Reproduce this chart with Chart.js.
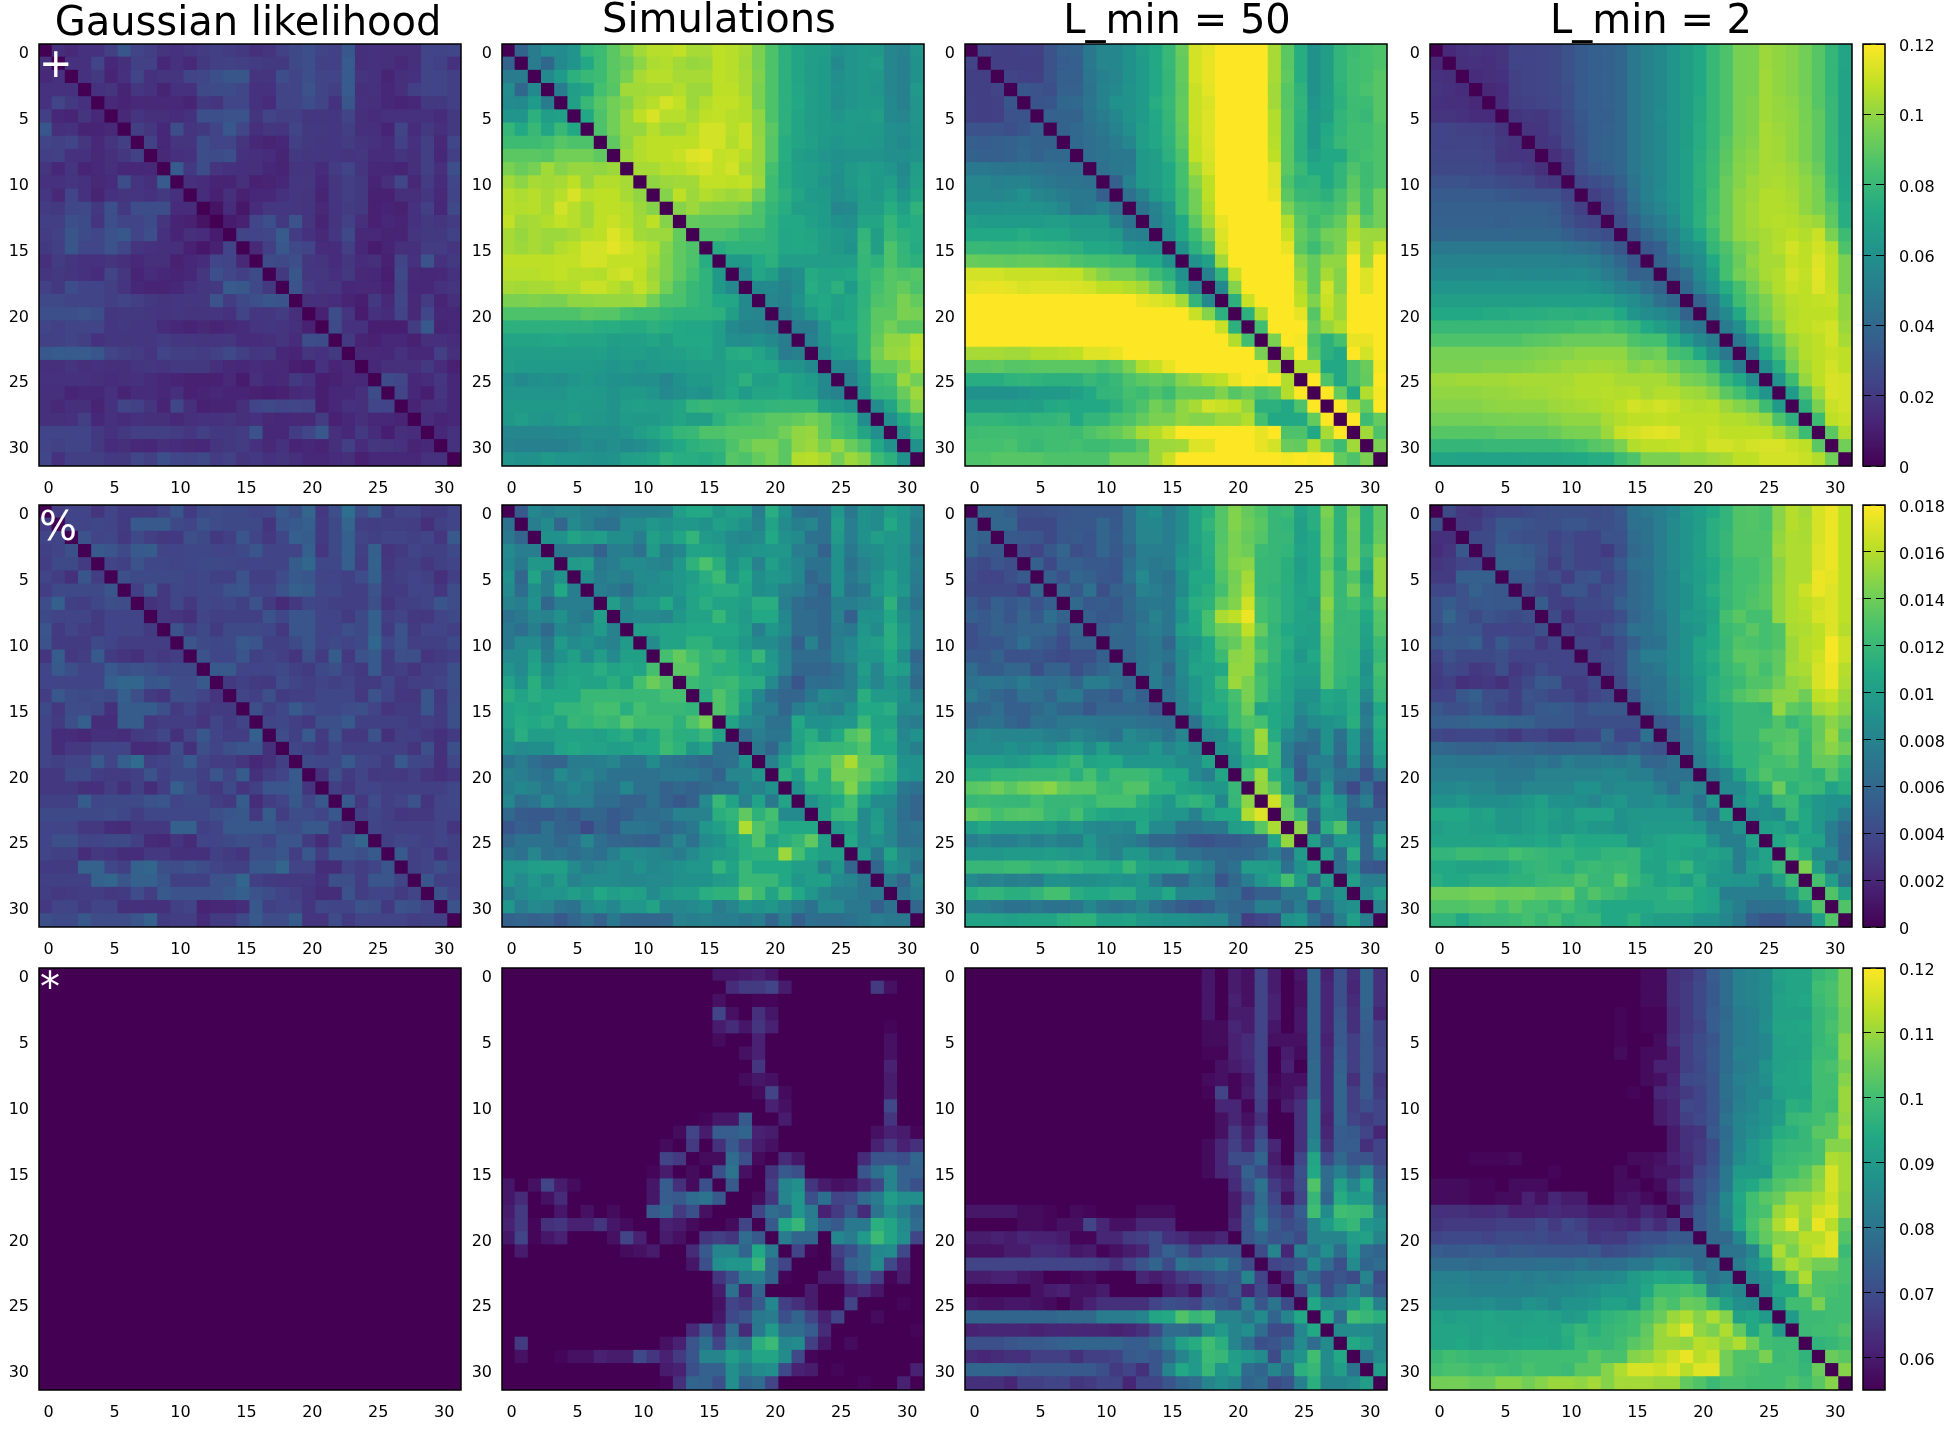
<!DOCTYPE html>
<html>
<head>
<meta charset="utf-8">
<title>Covariance panels</title>
<script src="https://cdn.jsdelivr.net/npm/chart.js@4"></script>
<style>
  body { margin: 0; background: #fff; width: 1950px; height: 1436px; position: relative; overflow: hidden; font-family: "DejaVu Sans", sans-serif; }
  canvas { position: absolute; }
  .title { position: absolute; font-size: 40px; line-height: 40px; white-space: nowrap; color: #000; transform: translateX(-50%); }
  .mark { position: absolute; font-size: 40px; line-height: 40px; color: #fff; z-index: 5; }
</style>
</head>
<body>
<script>
const titles = ['Gaussian likelihood', 'Simulations', 'L_min = 50', 'L_min = 2'];
const marks = ['+', '%', '*'];
const axisTicks = [0, 5, 10, 15, 20, 25, 30];
const plusTicks = [0, 0.02, 0.04, 0.06, 0.08, 0.1, 0.12];
const pctTicks = [0, 0.002, 0.004, 0.006, 0.008, 0.01, 0.012, 0.014, 0.016, 0.018];
const starTicks = [0.06, 0.07, 0.08, 0.09, 0.1, 0.11, 0.12];

// upper triangles, row by row, diagonal left out. '+' panels are in units of 0.001
const gaussPlus = [
[16,14,17,17,22,32,24,22,18,17,19,21,22,21,20,16,18,23,26,29,24,23,33,16,17,16,16,16,24,24,25],
[17,17,24,13,16,23,23,13,17,14,20,22,23,22,21,20,20,26,29,23,23,34,16,17,16,14,16,24,23,17],
[17,20,12,17,24,17,18,18,24,25,29,32,32,18,18,28,24,29,24,24,34,18,17,12,16,17,24,24,22],
[17,18,12,19,17,12,17,17,26,27,27,25,17,17,24,24,30,24,22,34,16,17,13,16,22,24,24,22],
[14,12,14,14,14,14,12,20,18,25,25,17,15,24,24,28,24,17,32,17,16,13,12,13,20,20,22],
[14,18,16,16,15,17,29,29,30,30,18,24,22,22,19,19,19,24,16,15,17,17,17,17,15,20],
[22,19,13,28,18,20,24,33,25,16,19,18,24,20,20,19,22,16,16,12,24,15,20,16,20],
[23,13,18,18,28,24,24,18,14,12,13,22,20,19,19,21,18,17,15,23,17,22,14,25],
[14,16,17,28,27,29,17,16,15,12,20,19,19,19,18,19,15,15,18,16,22,13,22],
[34,20,28,18,17,16,16,13,12,18,18,15,21,24,18,13,13,12,16,22,16,29],
[16,15,12,12,16,11,12,13,19,19,13,19,22,20,12,16,25,14,21,15,25],
[15,11,16,11,13,13,17,19,18,12,19,22,20,11,11,16,16,19,14,24],
[6,15,8,15,19,19,19,18,14,18,21,20,11,12,11,17,22,13,26],
[9,11,25,29,20,30,18,12,18,23,16,11,13,12,17,20,18,21],
[24,24,25,34,21,17,14,19,26,14,14,12,12,18,20,20,23],
[14,22,33,26,24,15,15,22,13,9,12,16,16,21,21,18],
[27,26,29,19,18,15,19,15,16,11,24,17,30,17,20],
[20,32,19,19,16,20,14,13,10,26,14,13,14,17],
[31,21,18,18,13,14,14,11,24,13,13,17,18],
[16,16,15,12,10,20,14,25,14,21,12,16],
[11,28,18,9,17,15,24,14,25,13,13],
[27,17,17,10,10,10,21,33,12,13],
[20,12,11,13,13,11,16,16,15],
[14,14,13,17,13,13,22,16],
[13,16,16,16,20,15,11],
[27,25,13,15,19,13],
[24,13,10,18,13],
[12,16,17,13],
[15,12,13],
[13,17],
[17]
];
const simPlus = [
[38,50,58,57,62,79,82,89,96,103,107,107,109,104,104,108,107,104,96,86,76,70,67,66,60,62,64,63,55,53,62],
[50,40,56,62,72,82,89,92,99,105,106,103,101,102,108,107,103,96,86,76,70,66,65,56,62,64,66,55,52,60],
[56,65,76,80,82,89,95,104,107,107,104,104,104,108,107,104,97,86,76,70,66,65,59,62,64,63,55,52,60],
[50,66,70,84,88,103,103,104,104,106,102,102,108,108,104,96,86,76,71,67,65,60,62,64,62,55,52,64],
[68,80,88,94,98,104,107,112,109,102,106,109,109,106,96,86,76,72,66,65,59,62,64,64,56,52,62],
[72,86,94,101,108,113,107,107,104,108,109,107,106,100,86,76,70,66,65,62,65,65,67,56,54,62],
[86,94,101,101,107,103,103,107,112,112,107,110,100,89,76,70,66,65,64,65,64,64,59,58,61],
[90,100,106,108,108,108,108,112,112,106,110,101,88,74,70,68,64,62,64,64,63,59,56,60],
[102,106,108,108,110,114,115,109,110,107,101,88,74,67,65,62,60,61,61,61,59,59,61],
[104,104,107,107,110,112,109,112,104,101,84,73,68,66,64,60,64,66,65,62,56,66],
[100,102,103,103,109,109,108,109,102,82,73,68,66,62,59,64,68,64,66,58,68],
[98,108,102,106,104,102,104,94,82,76,70,65,64,59,62,66,64,70,62,70],
[98,102,98,97,97,94,86,79,74,67,66,65,55,56,66,66,74,68,77],
[91,90,90,90,86,85,77,72,72,68,65,60,59,70,70,79,72,74],
[86,86,84,80,80,77,71,72,70,66,64,62,78,67,80,76,74],
[74,77,77,77,77,71,72,71,67,64,60,80,67,86,78,73],
[64,64,72,76,66,66,66,66,67,66,79,76,86,79,76],
[56,71,67,56,59,73,70,70,72,79,82,88,86,88],
[56,56,53,58,74,70,76,65,77,84,88,91,86],
[54,53,60,70,72,68,70,77,86,88,96,91],
[50,56,64,71,67,70,78,89,89,96,95],
[50,50,62,72,72,79,89,94,89,89],
[52,61,68,68,79,91,100,100,106],
[56,65,66,79,94,101,102,107],
[56,56,66,91,91,96,104],
[53,64,82,84,101,94],
[60,79,80,92,102],
[58,70,86,98],
[59,72,82],
[60,76],
[60]
];
const lmin50Plus = [
[24,22,22,23,23,30,36,38,48,54,55,60,66,72,80,92,112,115,125,125,125,125,104,89,74,60,67,78,82,84,86],
[22,22,22,22,30,35,36,48,54,55,60,65,72,80,91,112,116,125,125,125,125,104,89,74,60,67,78,83,84,86],
[24,23,23,31,36,36,47,52,54,60,65,72,79,91,112,116,125,125,125,125,104,90,74,60,67,78,83,84,88],
[32,30,29,37,37,46,53,56,61,65,72,79,90,110,115,125,125,125,125,103,88,77,60,67,77,83,85,88],
[31,32,40,41,47,53,60,61,65,74,80,91,110,113,125,125,125,125,103,88,78,62,68,76,82,82,88],
[37,38,38,46,50,55,61,65,72,79,91,110,114,125,125,125,125,106,89,77,64,67,78,82,80,88],
[38,41,44,48,53,59,66,71,78,90,110,114,125,125,125,125,106,89,76,64,72,78,83,83,86],
[41,43,46,50,55,66,71,77,89,109,114,125,125,125,125,107,89,76,64,73,80,83,83,86],
[43,46,48,48,64,67,76,86,109,113,125,125,125,125,108,89,76,68,72,72,82,84,86],
[44,48,49,64,66,72,84,103,112,125,125,125,125,114,89,80,72,72,78,86,82,86],
[36,53,64,66,72,84,98,108,125,125,125,125,114,86,77,78,72,78,89,82,86],
[44,53,64,70,82,94,108,125,125,125,125,116,89,80,79,76,84,91,84,94],
[46,53,62,82,94,106,125,125,125,125,125,96,86,84,82,86,96,84,94],
[52,60,72,89,103,116,125,125,125,125,106,89,82,86,91,104,89,94],
[58,72,82,96,114,125,125,125,125,110,91,86,94,96,106,102,102],
[60,76,86,112,125,125,125,125,116,89,82,90,96,112,102,110],
[60,68,103,125,125,125,125,125,98,91,100,100,125,103,125],
[52,78,110,125,125,125,125,101,91,104,98,125,114,125],
[56,98,125,125,125,125,106,91,112,98,125,114,125],
[76,110,125,125,125,108,97,110,102,125,125,125],
[76,106,125,125,116,88,108,102,125,125,125],
[83,125,125,125,92,101,106,125,125,125],
[96,125,118,86,76,84,116,116,125],
[102,125,89,76,72,125,112,125],
[106,106,72,72,86,92,118],
[125,86,72,86,91,125],
[125,91,72,106,118],
[125,104,91,125],
[125,82,91],
[103,86],
[96]
];
const lmin2Plus = [
[14,17,18,17,18,24,24,25,26,30,34,36,37,40,48,53,56,62,67,72,80,86,95,96,102,100,98,94,88,79,70],
[16,17,16,18,24,24,25,26,30,34,36,37,40,48,53,56,62,67,72,80,86,95,96,102,100,98,94,88,79,70],
[15,16,17,23,24,25,26,30,34,36,37,40,48,53,56,62,67,72,80,86,95,96,103,100,98,94,88,79,69],
[14,15,23,24,25,26,29,34,36,37,40,48,53,56,62,67,72,80,86,95,96,103,100,98,94,88,79,69],
[15,22,23,24,25,29,34,36,37,40,48,53,56,62,67,73,80,86,95,97,103,101,99,95,88,80,69],
[18,20,19,22,27,33,36,36,40,48,53,57,62,67,73,80,86,95,97,103,101,100,95,90,80,69],
[18,18,22,26,32,36,37,40,48,53,56,62,67,74,80,86,95,97,104,102,100,96,90,80,69],
[18,20,26,31,36,38,40,48,53,56,62,67,74,80,88,96,98,104,103,100,96,90,80,70],
[16,21,30,36,38,40,48,53,56,62,68,75,81,89,97,99,104,103,100,96,90,80,70],
[20,30,34,36,40,48,53,56,62,68,76,82,90,98,100,104,104,102,98,92,80,70],
[25,28,30,36,46,52,56,62,68,76,82,92,98,102,104,105,103,100,95,82,71],
[22,26,33,44,52,57,62,68,75,84,92,100,102,106,106,104,100,96,84,72],
[24,30,42,50,54,60,68,76,84,92,100,103,106,106,105,100,96,88,74],
[28,37,46,50,57,67,76,85,92,100,103,106,107,106,104,102,90,74],
[32,40,46,52,62,72,82,92,100,102,104,106,108,106,110,96,82],
[33,36,50,58,62,79,86,94,98,104,107,112,108,112,106,86],
[38,43,53,58,72,84,92,100,104,104,110,108,114,108,96],
[38,44,56,67,84,94,98,104,106,112,109,115,108,96],
[40,52,62,74,84,94,101,106,110,108,114,109,96],
[38,49,65,82,89,96,103,107,108,109,110,100],
[46,56,72,88,94,102,106,108,108,108,100],
[50,59,79,89,98,107,108,110,112,102],
[48,62,78,89,102,106,108,112,104],
[50,72,84,98,106,108,110,108],
[58,74,94,104,108,112,108],
[62,82,101,108,113,112],
[65,86,103,113,112],
[76,96,110,112],
[82,108,110],
[89,106],
[94]
];

// '%' panels are not symmetric, so upper and lower triangles are both kept, units of 0.0001
const gaussPctUpper = [
[32,36,36,27,36,31,31,31,36,47,31,40,41,40,40,36,38,50,43,58,29,43,65,41,52,31,36,36,31,31,36],
[36,36,38,36,31,50,50,50,40,36,45,41,40,40,40,27,47,50,54,31,40,58,34,32,33,33,32,24,34,36],
[45,36,38,30,40,33,29,30,43,40,30,33,47,36,29,38,54,52,31,40,54,36,34,36,36,34,36,28,50],
[50,47,40,50,52,36,36,38,38,36,36,40,47,36,36,36,54,28,40,54,34,54,27,31,36,34,34,40],
[36,34,45,38,38,36,38,40,40,38,36,36,36,36,52,60,38,38,54,32,56,28,33,34,28,34,36],
[43,40,40,40,40,36,38,34,34,45,33,33,41,50,47,36,36,34,41,54,31,34,36,34,24,33],
[34,47,29,38,36,38,38,45,47,36,36,45,54,52,38,38,34,33,45,31,31,36,36,28,41],
[26,29,38,29,38,36,38,34,45,31,22,29,38,36,34,33,33,43,27,33,34,36,47,41],
[29,27,25,36,34,34,34,34,45,38,47,47,36,36,31,40,54,33,36,29,29,36,40],
[45,34,40,31,40,40,40,38,29,47,47,36,36,43,40,54,31,45,31,36,36,33],
[47,40,38,40,50,47,34,34,40,47,36,40,36,40,60,38,45,33,34,34,40],
[45,38,38,47,34,36,33,27,43,31,52,29,45,50,31,43,43,27,31,33],
[50,50,36,36,36,40,34,31,40,43,33,30,50,31,33,27,34,34,43],
[30,34,31,30,41,36,33,36,34,36,31,31,38,29,33,33,36,43],
[36,34,43,31,33,33,38,38,38,29,45,36,28,28,47,30,41],
[43,33,38,50,41,38,38,41,43,36,27,31,31,47,31,43],
[36,38,33,29,43,43,50,34,34,34,34,31,33,31,43],
[41,34,50,31,45,29,29,45,25,33,34,29,25,31],
[36,34,29,38,33,34,34,34,33,27,43,25,43],
[40,38,38,50,38,36,31,50,38,36,24,38],
[25,43,31,36,29,31,29,33,27,24,28],
[33,28,36,36,33,33,33,33,33,38],
[50,29,41,33,36,45,27,36,38],
[34,38,33,28,29,29,36,36],
[36,34,33,33,33,36,27],
[34,38,36,33,36,34],
[50,33,36,25,33],
[34,36,43,36],
[47,34,34],
[45,36],
[45]
];
const gaussPctLower = [
[32],
[36,36],
[34,36,43],
[32,40,40,31],
[36,32,25,47,32],
[32,40,40,40,40,47],
[41,54,34,32,38,43,41],
[40,36,36,36,31,36,36,36],
[47,31,36,32,31,36,36,36,31],
[45,31,31,31,40,36,32,32,32,32],
[27,52,29,32,50,31,27,25,32,29,32],
[36,50,43,36,36,50,43,45,43,38,40,40],
[36,36,36,36,36,54,59,59,47,49,41,41,50],
[32,49,41,40,41,40,54,43,31,27,43,41,36,27],
[40,29,41,41,40,25,52,52,52,43,31,36,29,31,31],
[36,31,43,54,23,23,52,52,29,32,32,32,27,36,31,36],
[36,23,23,20,25,25,23,31,32,38,25,36,49,36,32,32,54],
[36,23,29,29,36,36,36,22,22,25,41,25,43,36,43,47,47,25],
[36,34,36,36,50,36,54,63,34,36,40,50,36,32,32,27,20,25,34],
[29,29,40,40,32,31,31,34,45,34,40,40,34,47,36,52,25,32,36,50],
[29,29,29,25,25,32,25,34,23,32,54,43,32,29,40,27,34,47,47,50,27],
[34,34,34,52,38,40,40,40,45,47,36,40,40,32,29,52,23,32,36,49,36,49],
[40,40,40,40,40,41,38,32,38,38,38,38,38,43,47,49,29,52,32,41,41,36,49],
[36,36,36,29,29,23,22,29,29,29,54,54,34,36,49,49,49,49,43,41,49,49,34,29],
[36,43,43,36,36,40,40,34,22,20,27,22,36,36,40,43,41,36,47,47,31,22,34,49,58],
[36,34,34,23,29,27,23,23,29,29,25,25,25,34,31,27,43,43,47,32,49,32,47,47,43,50],
[31,31,31,56,56,38,34,56,59,43,41,45,41,36,34,34,49,49,59,36,36,23,23,36,32,36,47],
[34,34,34,34,56,59,47,56,56,47,34,34,34,45,45,59,34,31,29,29,29,25,43,43,32,47,47,36],
[32,29,31,32,32,29,31,41,32,50,45,45,45,45,50,54,45,41,36,33,27,23,23,45,32,36,36,31,36],
[29,36,36,31,36,36,25,25,25,25,34,36,18,20,20,23,49,34,36,36,27,38,36,36,45,43,29,45,43,36],
[43,40,40,49,41,41,41,47,56,31,32,32,22,31,31,40,50,41,41,52,27,27,41,31,36,36,36,36,32,34,34]
];
const simPctUpper = [
[50,83,76,81,81,77,76,72,76,77,77,79,99,108,108,95,101,99,76,112,90,68,63,68,94,72,90,86,99,94,81],
[76,86,58,85,77,68,68,85,86,94,90,94,95,90,101,97,90,79,104,86,77,81,67,99,76,90,86,108,94,77],
[90,90,104,97,99,88,88,76,101,94,106,117,97,94,85,83,86,108,90,86,68,67,97,76,90,99,95,94,76],
[72,72,72,56,76,77,67,97,77,83,103,103,101,88,90,92,94,94,76,74,56,90,72,85,88,95,90,72],
[97,99,72,76,86,85,81,79,95,115,128,113,90,101,79,101,90,83,68,68,90,68,79,86,94,90,77],
[88,74,79,76,86,85,90,94,99,112,122,94,108,88,94,92,83,59,68,90,72,81,90,103,90,74],
[76,72,65,83,88,88,94,103,108,112,112,104,88,90,79,76,65,56,90,68,72,94,103,94,72],
[99,81,94,94,108,90,104,112,104,104,99,112,112,76,63,59,59,77,76,81,85,115,83,68],
[83,85,85,81,95,104,104,119,104,97,108,108,83,63,63,59,79,54,90,90,108,88,77],
[99,99,104,104,108,108,108,108,99,77,94,86,63,63,59,74,72,94,86,112,94,76],
[86,104,104,115,115,104,104,95,86,86,76,54,79,59,76,83,97,99,112,97,76],
[126,137,126,117,122,113,103,119,94,79,63,63,63,77,85,95,94,108,86,58],
[133,133,117,112,113,108,99,97,79,59,59,58,65,76,99,81,103,99,65],
[122,117,119,122,112,112,85,63,47,65,63,68,76,94,81,95,85,61],
[112,130,119,104,83,65,58,58,72,86,81,79,113,97,97,90,77],
[130,120,97,76,76,59,76,86,79,76,90,108,108,112,86,85],
[104,85,81,67,67,108,90,90,94,94,120,104,104,79,74],
[63,76,70,70,104,112,95,108,130,137,108,112,83,90],
[72,59,85,101,117,120,119,122,130,108,108,86,77],
[79,99,117,126,126,140,157,133,133,119,90,90],
[113,99,126,112,142,142,137,126,117,94,90],
[90,112,113,122,146,122,108,99,72,68],
[90,101,108,126,103,86,86,68,58],
[101,120,122,86,97,81,65,58],
[97,104,85,99,83,68,70],
[108,85,90,81,67,67],
[94,72,104,81,77],
[59,90,86,67],
[72,58,81],
[68,76],
[59]
];
const simPctLower = [
[68],
[72,58],
[85,76,76],
[83,72,95,95],
[90,58,104,76,90],
[85,63,88,77,108,77],
[79,76,90,59,76,76,76],
[68,72,81,79,90,77,72,99],
[72,65,77,61,83,79,85,97,79],
[72,85,86,72,97,86,90,83,79,97],
[85,86,99,77,90,101,85,99,85,101,101],
[92,85,104,88,101,104,104,112,104,108,104,126],
[103,90,113,94,104,108,104,104,113,104,126,139,130],
[113,104,112,108,108,108,120,120,120,119,120,120,126,126],
[103,108,104,108,117,117,120,126,126,112,126,120,120,120,117],
[103,110,108,112,104,119,117,122,119,131,124,124,124,115,130,142],
[95,112,99,99,103,103,103,101,108,112,99,108,119,113,112,120,104],
[90,85,88,88,103,108,103,103,99,101,108,108,122,115,95,104,65,65],
[68,74,65,58,58,74,74,77,81,70,70,86,70,67,63,59,65,67,90],
[79,76,70,68,85,76,81,74,68,68,67,67,72,72,72,67,56,81,81,94],
[76,83,79,70,74,83,77,67,67,83,67,67,56,61,56,61,65,65,83,79,90],
[83,65,70,83,72,76,76,63,63,56,56,68,56,49,56,85,120,104,79,103,72,103],
[61,52,50,50,56,50,59,59,50,54,63,63,67,79,79,79,113,117,135,115,126,85,85],
[47,54,52,68,56,54,40,56,50,70,70,68,59,65,72,94,101,113,158,130,120,108,108,108],
[59,68,68,68,59,65,81,65,58,58,56,54,67,81,67,85,90,104,113,130,104,112,119,135,101],
[72,67,81,67,70,63,70,65,77,88,85,83,79,74,85,95,97,99,112,115,115,153,126,108,101,101],
[94,94,99,101,101,86,76,81,86,83,90,83,86,90,94,94,117,104,120,108,108,108,99,99,79,95,59],
[94,85,94,86,97,79,86,86,86,83,83,85,85,90,90,90,97,99,120,120,120,108,94,99,101,85,81,70],
[76,85,90,92,92,99,95,108,99,104,101,86,95,99,99,112,115,115,135,124,104,122,108,94,81,76,76,70,72],
[94,76,85,81,70,68,85,90,83,94,94,104,83,81,85,90,74,81,95,90,95,85,77,68,86,85,72,72,54,68],
[56,59,56,58,49,59,67,56,72,61,59,59,61,79,77,79,76,76,72,77,59,77,54,65,63,63,68,72,76,72,72]
];
const lmin50PctUpper = [
[59,59,54,43,43,45,47,49,49,49,49,65,83,88,74,86,104,112,131,146,137,130,119,122,103,112,144,115,140,113,135],
[59,59,40,40,40,49,49,49,59,50,65,81,83,76,86,104,117,131,146,139,133,119,117,101,112,140,115,142,113,135],
[50,49,47,40,49,50,47,59,52,65,81,81,76,86,104,112,131,144,137,131,119,119,101,108,139,115,140,113,137],
[41,36,49,58,43,47,59,50,59,76,76,76,90,99,112,133,144,140,122,119,117,103,108,140,117,140,119,144],
[54,40,54,54,50,50,47,65,76,72,74,95,101,110,133,146,148,120,119,113,99,108,135,113,142,112,151],
[54,45,59,56,49,47,68,85,72,68,88,108,108,130,142,155,120,119,113,101,108,142,119,130,104,151],
[59,50,67,43,56,58,79,76,70,86,106,113,126,144,158,120,117,112,103,108,142,119,140,112,151],
[61,50,52,49,61,70,72,70,95,112,115,137,146,167,126,120,112,106,99,148,120,126,115,137],
[54,49,50,59,68,79,70,90,108,126,157,162,175,126,120,112,104,103,144,119,120,108,131],
[54,61,59,72,76,70,99,106,126,140,142,162,137,117,108,103,101,140,120,119,103,130],
[59,59,68,72,59,90,94,108,130,137,151,126,119,112,99,101,137,119,119,101,122],
[59,68,72,68,86,99,108,122,148,151,133,119,108,95,108,135,119,117,94,119],
[68,74,58,86,103,103,108,151,151,122,115,108,101,101,133,119,117,90,126],
[74,65,83,94,103,122,153,144,126,115,104,97,97,133,117,113,94,122],
[68,79,94,104,112,126,144,126,112,104,90,90,108,104,112,85,119],
[79,88,108,108,122,140,104,108,101,85,95,104,101,110,72,108],
[68,95,99,122,130,126,108,99,76,86,90,95,113,76,112],
[81,86,108,122,153,110,85,76,68,90,68,94,67,108],
[90,95,120,151,122,76,61,63,90,63,94,63,103],
[90,112,115,122,77,54,76,76,58,86,59,95],
[126,153,112,97,50,68,81,68,65,45,67],
[151,135,95,79,56,94,58,40,63,40],
[167,133,67,79,103,90,61,77,43],
[137,119,61,97,95,54,54,54],
[148,49,112,130,83,56,76],
[99,68,94,94,59,104],
[99,65,112,58,83],
[68,86,50,47],
[99,76,76],
[83,99],
[81]
];
const lmin50PctLower = [
[56],
[59,56],
[58,49,49],
[43,40,47,43],
[41,36,36,43,50],
[40,40,40,40,32,59],
[50,43,54,49,54,45,54],
[54,50,56,47,58,50,65,56],
[43,50,56,54,58,58,58,47,59],
[43,47,47,54,65,54,50,41,56,56],
[50,49,56,45,45,47,43,40,43,43,54],
[63,52,52,59,58,43,56,56,43,52,59,65],
[67,70,70,68,74,68,65,67,59,74,74,67,59],
[74,65,59,54,67,67,58,72,72,56,56,50,65,54],
[59,59,65,54,54,61,68,59,59,49,58,58,59,59,49],
[61,68,68,59,54,67,65,72,72,72,70,70,70,67,65,63],
[81,85,81,81,81,81,77,74,81,77,72,68,85,79,77,68,81],
[86,85,85,90,85,90,85,95,99,86,99,86,86,86,94,81,90,79],
[101,101,101,97,99,108,108,113,119,104,108,108,94,94,94,94,86,85,103],
[113,112,117,117,119,119,119,122,112,126,112,122,122,122,117,108,108,85,76,106],
[133,135,140,133,140,144,148,137,133,133,122,120,130,130,115,115,104,101,95,95,120],
[119,122,120,119,119,126,119,119,120,117,126,126,126,113,104,94,112,117,112,83,119,148],
[137,133,126,130,131,130,120,117,126,112,108,104,106,106,99,92,92,79,99,108,108,158,171],
[99,108,99,99,99,97,99,90,95,85,83,85,83,108,85,85,67,67,72,72,99,103,133,157],
[76,81,77,76,81,77,81,77,77,94,81,79,77,70,59,59,54,47,45,50,50,56,56,104,151],
[94,94,94,97,97,97,99,97,94,97,86,79,94,95,81,86,67,67,61,61,59,59,67,76,59,97],
[119,119,119,122,122,117,117,120,117,112,112,108,120,104,101,101,104,88,79,61,68,99,99,97,68,90,104],
[85,79,81,77,79,76,90,90,88,88,90,92,90,94,76,61,59,74,72,47,61,76,94,104,126,99,58,97],
[112,117,117,113,112,117,126,126,112,108,108,112,112,94,94,108,83,83,81,67,65,45,54,54,72,72,103,77,90],
[77,76,72,68,68,72,68,68,70,83,72,68,72,79,67,59,52,47,52,63,59,59,77,76,61,77,49,65,85,90],
[104,104,103,101,104,104,104,112,115,115,101,101,104,95,92,90,90,88,85,85,63,32,38,43,90,94,68,49,77,101,76]
];
const lmin2PctUpper = [
[40,29,27,34,36,36,40,41,43,43,43,41,43,49,68,72,76,83,94,99,108,117,130,131,128,148,160,155,169,175,162],
[29,31,38,49,49,45,43,43,47,47,43,43,47,67,68,76,85,92,99,112,117,130,131,128,148,160,157,169,175,162],
[40,40,50,45,43,43,36,41,36,36,45,45,63,68,76,86,92,101,112,119,130,130,130,151,158,157,169,175,162],
[40,54,54,52,45,36,43,36,36,31,43,61,65,76,85,92,101,112,119,130,130,130,153,158,158,171,175,162],
[56,56,54,43,32,43,36,36,40,50,65,68,76,85,92,101,108,117,126,126,131,148,158,158,171,175,162],
[49,49,40,43,32,45,47,36,45,61,65,76,83,94,99,108,119,126,126,131,149,158,158,175,173,162],
[43,36,34,47,47,36,43,47,61,65,76,83,90,101,112,120,126,128,133,151,158,166,175,171,162],
[52,34,32,40,40,41,54,61,65,76,83,90,99,108,119,126,130,133,151,158,162,167,171,162],
[40,25,36,36,36,43,58,65,72,83,94,97,104,126,133,126,126,151,158,160,169,171,162],
[36,32,34,43,50,67,68,72,81,90,95,108,122,126,133,126,130,157,158,162,171,160],
[36,36,32,43,54,65,68,81,90,104,108,120,130,128,126,130,153,160,162,178,166],
[36,40,43,63,76,76,83,90,104,112,122,133,133,130,135,153,160,166,178,166],
[36,43,63,68,72,83,90,101,108,120,126,133,126,135,155,157,169,175,160],
[40,59,67,68,79,88,97,112,117,122,130,130,140,149,153,169,175,158],
[49,65,68,77,86,97,112,119,130,135,140,148,149,140,162,166,153],
[61,65,74,86,101,108,112,119,119,117,151,135,131,153,157,149],
[50,54,72,83,101,112,119,119,119,130,119,126,137,148,140],
[56,67,81,103,112,119,119,130,130,133,122,137,153,131],
[65,79,95,108,117,117,122,133,135,119,140,148,140],
[76,90,101,117,117,126,126,130,119,137,137,126],
[72,83,101,119,130,122,122,119,115,131,117],
[85,85,101,115,139,115,122,119,103,113],
[90,101,90,119,122,104,94,90,90],
[86,90,88,119,108,95,90,76],
[99,103,94,108,94,76,63],
[108,115,104,104,76,59],
[126,113,85,85,58],
[144,99,67,77],
[126,99,67],
[130,103],
[130]
];
const lmin2PctLower = [
[43],
[25,25],
[23,27,49],
[27,31,36,38],
[31,31,54,54,54],
[38,38,45,56,50,49],
[45,52,45,49,50,49,49],
[45,58,47,40,47,43,40,43],
[40,49,47,47,36,36,36,36,43],
[49,52,50,54,38,50,41,41,29,38],
[36,45,40,40,40,43,36,36,36,36,36],
[32,40,36,29,32,43,29,34,41,36,36,36],
[31,34,25,27,29,25,32,40,50,49,32,32,40],
[36,36,49,54,41,41,34,45,43,38,38,31,36,41],
[49,43,43,49,43,36,34,43,50,52,49,43,49,49,49],
[54,54,56,59,59,59,56,56,49,49,49,43,43,43,43,43],
[40,36,38,38,38,34,29,36,36,31,29,36,36,56,38,38,68],
[61,59,56,56,54,58,58,58,56,54,54,56,56,49,47,56,49,45],
[72,72,70,70,70,70,68,68,72,68,76,72,72,74,72,76,59,58,67],
[76,76,76,76,76,72,72,72,79,79,79,79,79,83,83,77,77,65,68,68],
[83,83,85,81,81,74,74,81,81,81,81,90,90,81,86,86,86,76,65,81,79],
[90,90,95,88,88,88,90,95,101,90,90,88,81,90,95,85,85,90,83,83,68,94],
[108,108,108,101,104,95,95,99,104,99,95,103,103,103,90,95,95,94,94,94,76,68,104],
[99,103,103,101,101,95,95,99,103,97,95,99,95,95,90,94,97,97,97,97,95,77,77,90],
[104,104,104,104,104,108,103,103,108,103,112,108,108,108,108,95,99,104,108,108,108,90,77,77,103],
[117,117,122,122,120,120,126,122,120,117,117,112,112,117,117,119,108,104,108,104,99,103,99,76,90,103],
[108,108,104,104,104,106,112,117,119,117,112,119,122,119,122,119,104,104,113,119,104,99,95,76,99,104,120],
[112,108,108,112,112,112,115,115,120,122,122,130,119,120,133,120,113,104,108,99,112,94,94,92,92,77,99,122],
[140,140,140,142,142,139,139,140,135,135,139,120,130,124,119,113,112,112,117,117,108,103,77,76,76,76,76,95,120],
[130,130,130,133,133,126,133,126,126,119,126,117,112,108,108,108,108,112,112,112,108,103,86,77,65,67,68,72,95,130],
[117,117,108,117,119,119,122,126,120,126,115,119,120,108,108,115,103,99,99,99,90,90,83,72,54,47,47,59,59,99,131]
];
// '*' panels, units of 0.001, anything under 0.055 sits on the bottom colour
const gaussStar = [
[0,0,0,0,0,0,0,0,0,0,0,0,0,0,0,0,0,0,0,0,0,0,0,0,0,0,0,0,0,0,0],
[0,0,0,0,0,0,0,0,0,0,0,0,0,0,0,0,0,0,0,0,0,0,0,0,0,0,0,0,0,0],
[0,0,0,0,0,0,0,0,0,0,0,0,0,0,0,0,0,0,0,0,0,0,0,0,0,0,0,0,0],
[0,0,0,0,0,0,0,0,0,0,0,0,0,0,0,0,0,0,0,0,0,0,0,0,0,0,0,0],
[0,0,0,0,0,0,0,0,0,0,0,0,0,0,0,0,0,0,0,0,0,0,0,0,0,0,0],
[0,0,0,0,0,0,0,0,0,0,0,0,0,0,0,0,0,0,0,0,0,0,0,0,0,0],
[0,0,0,0,0,0,0,0,0,0,0,0,0,0,0,0,0,0,0,0,0,0,0,0,0],
[0,0,0,0,0,0,0,0,0,0,0,0,0,0,0,0,0,0,0,0,0,0,0,0],
[0,0,0,0,0,0,0,0,0,0,0,0,0,0,0,0,0,0,0,0,0,0,0],
[0,0,0,0,0,0,0,0,0,0,0,0,0,0,0,0,0,0,0,0,0,0],
[0,0,0,0,0,0,0,0,0,0,0,0,0,0,0,0,0,0,0,0,0],
[0,0,0,0,0,0,0,0,0,0,0,0,0,0,0,0,0,0,0,0],
[0,0,0,0,0,0,0,0,0,0,0,0,0,0,0,0,0,0,0],
[0,0,0,0,0,0,0,0,0,0,0,0,0,0,0,0,0,0],
[0,0,0,0,0,0,0,0,0,0,0,0,0,0,0,0,0],
[0,0,0,0,0,0,0,0,0,0,0,0,0,0,0,0],
[0,0,0,0,0,0,0,0,0,0,0,0,0,0,0],
[0,0,0,0,0,0,0,0,0,0,0,0,0,0],
[0,0,0,0,0,0,0,0,0,0,0,0,0],
[0,0,0,0,0,0,0,0,0,0,0,0],
[0,0,0,0,0,0,0,0,0,0,0],
[0,0,0,0,0,0,0,0,0,0],
[0,0,0,0,0,0,0,0,0],
[0,0,0,0,0,0,0,0],
[0,0,0,0,0,0,0],
[0,0,0,0,0,0],
[0,0,0,0,0],
[0,0,0,0],
[0,0,0],
[0,0],
[0]
];
const simStar = [
[0,0,0,0,0,0,0,0,0,0,0,0,0,0,0,59,59,60,61,59,0,0,0,0,0,0,0,0,0,0,0],
[0,0,0,0,0,0,0,0,0,0,0,0,0,0,0,63,66,66,68,60,0,0,0,0,0,0,66,58,0,0],
[0,0,0,0,0,0,0,0,0,0,0,0,0,58,0,0,56,56,0,0,0,0,0,0,0,0,0,0,0],
[0,0,0,0,0,0,0,0,0,0,0,0,68,58,0,64,59,0,0,0,0,0,0,0,0,0,0,0],
[0,0,0,0,0,0,0,0,0,0,0,60,63,59,65,61,0,0,0,0,0,0,0,0,56,0,0],
[0,0,0,0,0,0,0,0,0,0,57,0,0,61,0,0,0,0,0,0,0,0,0,58,0,0],
[0,0,0,0,0,0,0,0,0,0,0,58,61,0,0,0,0,0,0,0,0,0,58,0,0],
[0,0,0,0,0,0,0,0,0,0,0,65,0,0,0,0,0,0,0,0,0,61,0,0],
[0,0,0,0,0,0,0,0,0,57,59,58,0,0,0,0,0,0,0,0,60,0,0],
[0,0,0,0,0,0,0,0,0,57,68,57,0,0,0,0,0,0,0,60,0,0],
[0,0,0,0,0,0,0,0,0,61,58,0,0,0,0,0,0,0,69,0,0],
[0,0,0,56,59,59,73,0,0,60,0,0,0,0,0,0,0,65,0,0],
[57,68,60,74,74,76,61,60,0,0,0,0,0,0,0,58,61,60,56],
[66,0,64,73,66,60,58,0,0,0,0,0,0,0,61,66,61,64],
[57,57,78,71,57,0,63,59,0,0,0,0,63,72,72,71,76],
[71,80,58,0,65,73,71,0,0,0,0,72,79,84,75,75],
[73,0,0,67,84,87,65,60,58,59,63,68,84,75,71],
[0,57,65,84,89,71,79,68,69,78,82,91,87,87],
[68,78,76,89,82,61,66,72,63,80,87,82,76],
[73,94,98,83,76,73,81,81,96,93,86,78],
[82,76,76,0,85,82,90,99,93,87,68],
[68,56,0,67,71,78,85,86,69,0],
[0,0,64,76,78,86,69,61,0],
[60,60,68,74,67,56,60,0],
[0,61,63,59,0,0,0],
[68,0,0,0,56,0],
[0,57,0,0,0],
[0,0,0,56],
[0,0,0],
[0,0],
[61]
];
const lmin50Star = [
[0,0,0,0,0,0,0,0,0,0,0,0,0,0,0,0,0,59,0,60,58,68,60,0,59,76,61,71,63,76,64],
[0,0,0,0,0,0,0,0,0,0,0,0,0,0,0,0,59,0,60,58,68,60,0,58,76,62,71,62,76,64],
[0,0,0,0,0,0,0,0,0,0,0,0,0,0,0,59,0,61,58,68,61,0,58,76,62,71,63,76,64],
[0,0,0,0,0,0,0,0,0,0,0,0,0,0,59,0,60,60,68,61,0,59,76,62,72,64,75,62],
[0,0,0,0,0,0,0,0,0,0,0,0,0,57,57,62,60,68,59,0,59,76,62,73,64,74,67],
[0,0,0,0,0,0,0,0,0,0,0,0,57,57,61,63,68,58,58,58,76,61,73,67,73,67],
[0,0,0,0,0,0,0,0,0,0,0,56,56,61,63,68,0,60,57,76,62,74,67,73,68],
[0,0,0,0,0,0,0,0,0,0,0,58,60,62,68,0,61,0,77,62,75,67,73,68],
[0,0,0,0,0,0,0,0,0,57,58,56,59,68,56,58,58,77,62,76,64,73,65],
[0,0,0,0,0,0,0,0,56,68,56,60,68,57,58,61,77,62,76,67,73,66],
[0,0,0,0,0,0,0,0,62,62,56,67,0,60,64,82,62,76,67,71,68],
[0,0,0,0,0,0,0,58,62,58,64,0,0,64,82,61,76,68,66,68],
[0,0,0,0,0,0,58,66,60,68,0,0,64,82,62,74,73,68,62],
[0,0,0,0,57,62,67,62,72,62,0,64,84,64,74,74,64,68],
[0,0,0,57,62,70,70,76,60,0,68,93,69,77,72,72,68],
[0,0,57,62,64,75,70,62,60,71,94,78,83,77,84,72],
[0,0,0,63,72,80,66,62,70,102,78,92,84,94,76],
[0,0,60,67,78,68,58,68,98,76,95,90,90,78],
[0,60,72,79,71,67,74,100,86,100,99,98,84],
[62,72,82,73,70,72,84,90,96,98,89,87],
[72,76,72,73,70,84,84,84,91,92,84],
[70,84,62,83,80,87,78,89,78,76],
[68,70,72,86,78,71,86,76,78],
[62,80,76,70,72,70,84,70],
[70,84,70,76,84,78,72],
[94,85,86,88,96,83],
[94,78,100,98,96],
[86,86,86,84],
[94,91,84],
[80,86],
[91]
];
const lmin2Star = [
[0,0,0,0,0,0,0,0,0,0,0,0,0,0,0,57,57,64,65,68,74,78,83,84,86,92,93,93,98,100,106],
[0,0,0,0,0,0,0,0,0,0,0,0,0,0,57,57,64,66,69,73,78,83,84,86,91,93,93,100,101,106],
[0,0,0,0,0,0,0,0,0,0,0,0,0,57,57,64,66,69,73,78,83,84,86,92,93,94,99,101,106],
[0,0,0,0,0,0,0,0,0,0,56,0,56,56,63,66,69,74,77,82,83,86,92,92,92,98,100,105],
[0,0,0,0,0,0,0,0,0,56,0,56,56,63,66,68,74,78,82,83,87,93,93,94,98,101,105],
[0,0,0,0,0,0,0,0,56,0,0,57,64,67,70,72,78,82,83,85,92,93,93,98,100,108],
[0,0,0,0,0,0,0,57,0,57,57,61,67,70,73,78,83,83,85,92,92,93,99,99,108],
[0,0,0,0,0,0,0,0,57,61,61,67,69,73,78,82,83,88,92,93,94,100,101,106],
[0,0,0,0,0,0,0,57,58,62,69,70,72,79,83,84,87,93,93,94,100,100,108],
[0,0,0,0,0,56,0,62,63,66,68,72,79,82,85,85,92,93,93,100,100,110],
[0,0,0,0,0,0,60,62,69,68,72,78,83,85,88,90,96,95,100,99,110],
[0,0,0,0,0,60,62,67,69,72,80,84,86,88,91,98,99,100,103,109],
[0,0,0,0,0,60,64,65,73,78,84,87,89,95,96,98,103,103,111],
[0,0,0,0,60,64,66,70,79,85,89,92,97,98,98,101,108,108],
[57,57,58,61,63,66,71,79,86,89,92,98,99,100,101,112,111],
[57,59,59,62,69,72,81,90,90,90,100,100,103,108,116,111],
[57,62,66,71,74,81,92,94,98,102,104,105,109,116,111],
[60,63,71,76,85,94,100,103,105,110,110,112,115,110],
[67,73,77,84,93,100,101,110,113,110,115,117,110],
[73,77,82,94,101,105,112,117,109,118,113,104],
[77,77,85,99,104,108,109,113,113,117,102],
[80,80,84,99,112,107,112,115,117,99],
[82,87,92,108,112,109,106,106,101],
[84,87,92,104,112,102,102,101],
[86,94,94,106,102,101,100],
[90,100,100,107,100,100],
[90,99,99,100,100],
[99,100,100,102],
[97,98,100],
[105,103],
[108]
];

const panels = [
  [[gaussPlus], [simPlus], [lmin50Plus], [lmin2Plus]],
  [[gaussPctUpper, gaussPctLower], [simPctUpper, simPctLower], [lmin50PctUpper, lmin50PctLower], [lmin2PctUpper, lmin2PctLower]],
  [[gaussStar], [simStar], [lmin50Star], [lmin2Star]]
];
const rowScales = [
  { min: 0, max: 0.12, unit: 0.001, ticks: plusTicks },
  { min: 0, max: 0.018, unit: 0.0001, ticks: pctTicks },
  { min: 0.055, max: 0.12, unit: 0.001, ticks: starTicks }
];

const plotLefts = [39, 502, 965, 1430];
const plotTops = [44, 505, 968];
const plotSize = 422;
const titleCentres = [248, 719, 1177, 1651];
const titleTops = [1, -2, -1, -1];
const markSpots = [[39, 43], [39, 506], [40, 967]];
const fontFamily = '"DejaVu Sans"';
const tickFontSize = 16;

const viridis = ['#440154', '#482475', '#414487', '#355f8d', '#2a788e', '#21918c', '#22a884', '#44bf70', '#7ad151', '#bddf26', '#fde725'];

function hexToRgb(h) {
  return [parseInt(h.slice(1, 3), 16), parseInt(h.slice(3, 5), 16), parseInt(h.slice(5, 7), 16)];
}
const viridisRgb = viridis.map(hexToRgb);

function colourAt(t) {
  t = Math.max(0, Math.min(1, t));
  const p = t * (viridisRgb.length - 1);
  const i = Math.min(Math.floor(p), viridisRgb.length - 2);
  const f = p - i;
  const a = viridisRgb[i], b = viridisRgb[i + 1];
  return 'rgb(' + Math.round(a[0] + (b[0] - a[0]) * f) + ',' + Math.round(a[1] + (b[1] - a[1]) * f) + ',' + Math.round(a[2] + (b[2] - a[2]) * f) + ')';
}

// one {x, y, v} per cell; lower triangle mirrors the upper one when it has no array of its own
function cells(upper, lower, unit) {
  const out = [];
  for (let r = 0; r < 32; r++) {
    for (let c = 0; c < 32; c++) {
      let v = 0;
      if (r < c) v = upper[r][c - r - 1];
      else if (r > c) v = lower ? lower[r - 1][c] : upper[c][r - c - 1];
      out.push({ x: c, y: r, v: v * unit });
    }
  }
  return out;
}

const framePlugin = {
  id: 'frame',
  afterDraw(chart) {
    const a = chart.chartArea, ctx = chart.ctx;
    ctx.save();
    ctx.strokeStyle = '#000';
    ctx.lineWidth = 1.5;
    ctx.strokeRect(a.left, a.top, a.width, a.height);
    ctx.restore();
  }
};

// tick labels must not eat into the plot area, the panels have a fixed size
function noLabelPadding(s) {
  s.paddingTop = 0;
  s.paddingBottom = 0;
  s.paddingLeft = 0;
  s.paddingRight = 0;
}

function addCanvas(left, top, width, height) {
  const cv = document.createElement('canvas');
  cv.width = width;
  cv.height = height;
  cv.style.left = left + 'px';
  cv.style.top = top + 'px';
  cv.style.width = width + 'px';
  cv.style.height = height + 'px';
  document.body.appendChild(cv);
  return cv;
}

function heatChart(left, top, source, scale) {
  const cv = addCanvas(left - 40, top - 2, plotSize + 43, plotSize + 37);
  const axis = {
    type: 'linear',
    min: -0.5,
    max: 31.5,
    grid: { display: false, drawTicks: false },
    border: { display: false },
    afterBuildTicks: s => { s.ticks = axisTicks.map(v => ({ value: v })); }
  };
  new Chart(cv, {
    type: 'scatter',
    data: {
      datasets: [{
        data: cells(source[0], source[1], scale.unit),
        clip: 0,
        pointStyle: 'rect',
        pointBorderWidth: 0,
        // a little overlap, otherwise white seams show between the cells
        pointRadius: ctx => (ctx.chart.chartArea ? ctx.chart.chartArea.width / 32 + 1.1 : 13) / Math.SQRT2,
        pointBackgroundColor: ctx => colourAt(ctx.raw ? (ctx.raw.v - scale.min) / (scale.max - scale.min) : 0)
      }]
    },
    options: {
      responsive: false,
      animation: false,
      events: [],
      layout: { autoPadding: false, padding: { top: 2, right: 3, left: 0, bottom: 0 } },
      plugins: { legend: { display: false }, tooltip: { enabled: false } },
      scales: {
        x: Object.assign({}, axis, {
          position: 'bottom',
          afterFit: s => { s.height = 35; noLabelPadding(s); },
          ticks: { autoSkip: false, maxRotation: 0, padding: 13, labelOffset: 3, color: '#000', font: { family: fontFamily, size: tickFontSize }, callback: v => String(v) }
        }),
        y: Object.assign({}, axis, {
          reverse: true,
          afterFit: s => { s.width = 40; noLabelPadding(s); },
          ticks: { autoSkip: false, padding: 10, labelOffset: 3, color: '#000', font: { family: fontFamily, size: tickFontSize }, callback: v => String(v) }
        })
      }
    },
    plugins: [framePlugin]
  });
}

function colourBar(top, scale) {
  const cv = addCanvas(1861, top - 10, 89, plotSize + 20);
  new Chart(cv, {
    type: 'bar',
    data: {
      labels: [''],
      datasets: [{
        data: [[scale.min, scale.max]],
        barPercentage: 1,
        categoryPercentage: 1,
        backgroundColor: ctx => {
          const a = ctx.chart.chartArea;
          if (!a) return viridis[0];
          const g = ctx.chart.ctx.createLinearGradient(0, a.bottom, 0, a.top);
          viridis.forEach((c, i) => g.addColorStop(i / (viridis.length - 1), c));
          return g;
        }
      }]
    },
    options: {
      responsive: false,
      animation: false,
      events: [],
      layout: { autoPadding: false, padding: { top: 10, bottom: 10, left: 2, right: 0 } },
      plugins: { legend: { display: false }, tooltip: { enabled: false } },
      scales: {
        x: { display: false },
        y: {
          position: 'right',
          min: scale.min,
          max: scale.max,
          afterFit: s => { s.width = 65; noLabelPadding(s); },
          afterBuildTicks: s => { s.ticks = scale.ticks.map(v => ({ value: v })); },
          grid: { display: true, color: '#000', lineWidth: 1, drawTicks: false, z: 1 },
          border: { display: false, dash: [8, 5] },
          ticks: { autoSkip: false, padding: 14, labelOffset: 3, color: '#000', font: { family: fontFamily, size: tickFontSize }, callback: v => String(v) }
        }
      }
    },
    plugins: [framePlugin]
  });
}

panels.forEach((row, r) => {
  row.forEach((source, c) => heatChart(plotLefts[c], plotTops[r], source, rowScales[r]));
  colourBar(plotTops[r], rowScales[r]);
});

titles.forEach((text, i) => {
  const d = document.createElement('div');
  d.className = 'title';
  d.textContent = text;
  d.style.left = titleCentres[i] + 'px';
  d.style.top = titleTops[i] + 'px';
  document.body.appendChild(d);
});

marks.forEach((text, i) => {
  const d = document.createElement('div');
  d.className = 'mark';
  d.textContent = text;
  d.style.left = markSpots[i][0] + 'px';
  d.style.top = markSpots[i][1] + 'px';
  document.body.appendChild(d);
});
</script>
</body>
</html>
